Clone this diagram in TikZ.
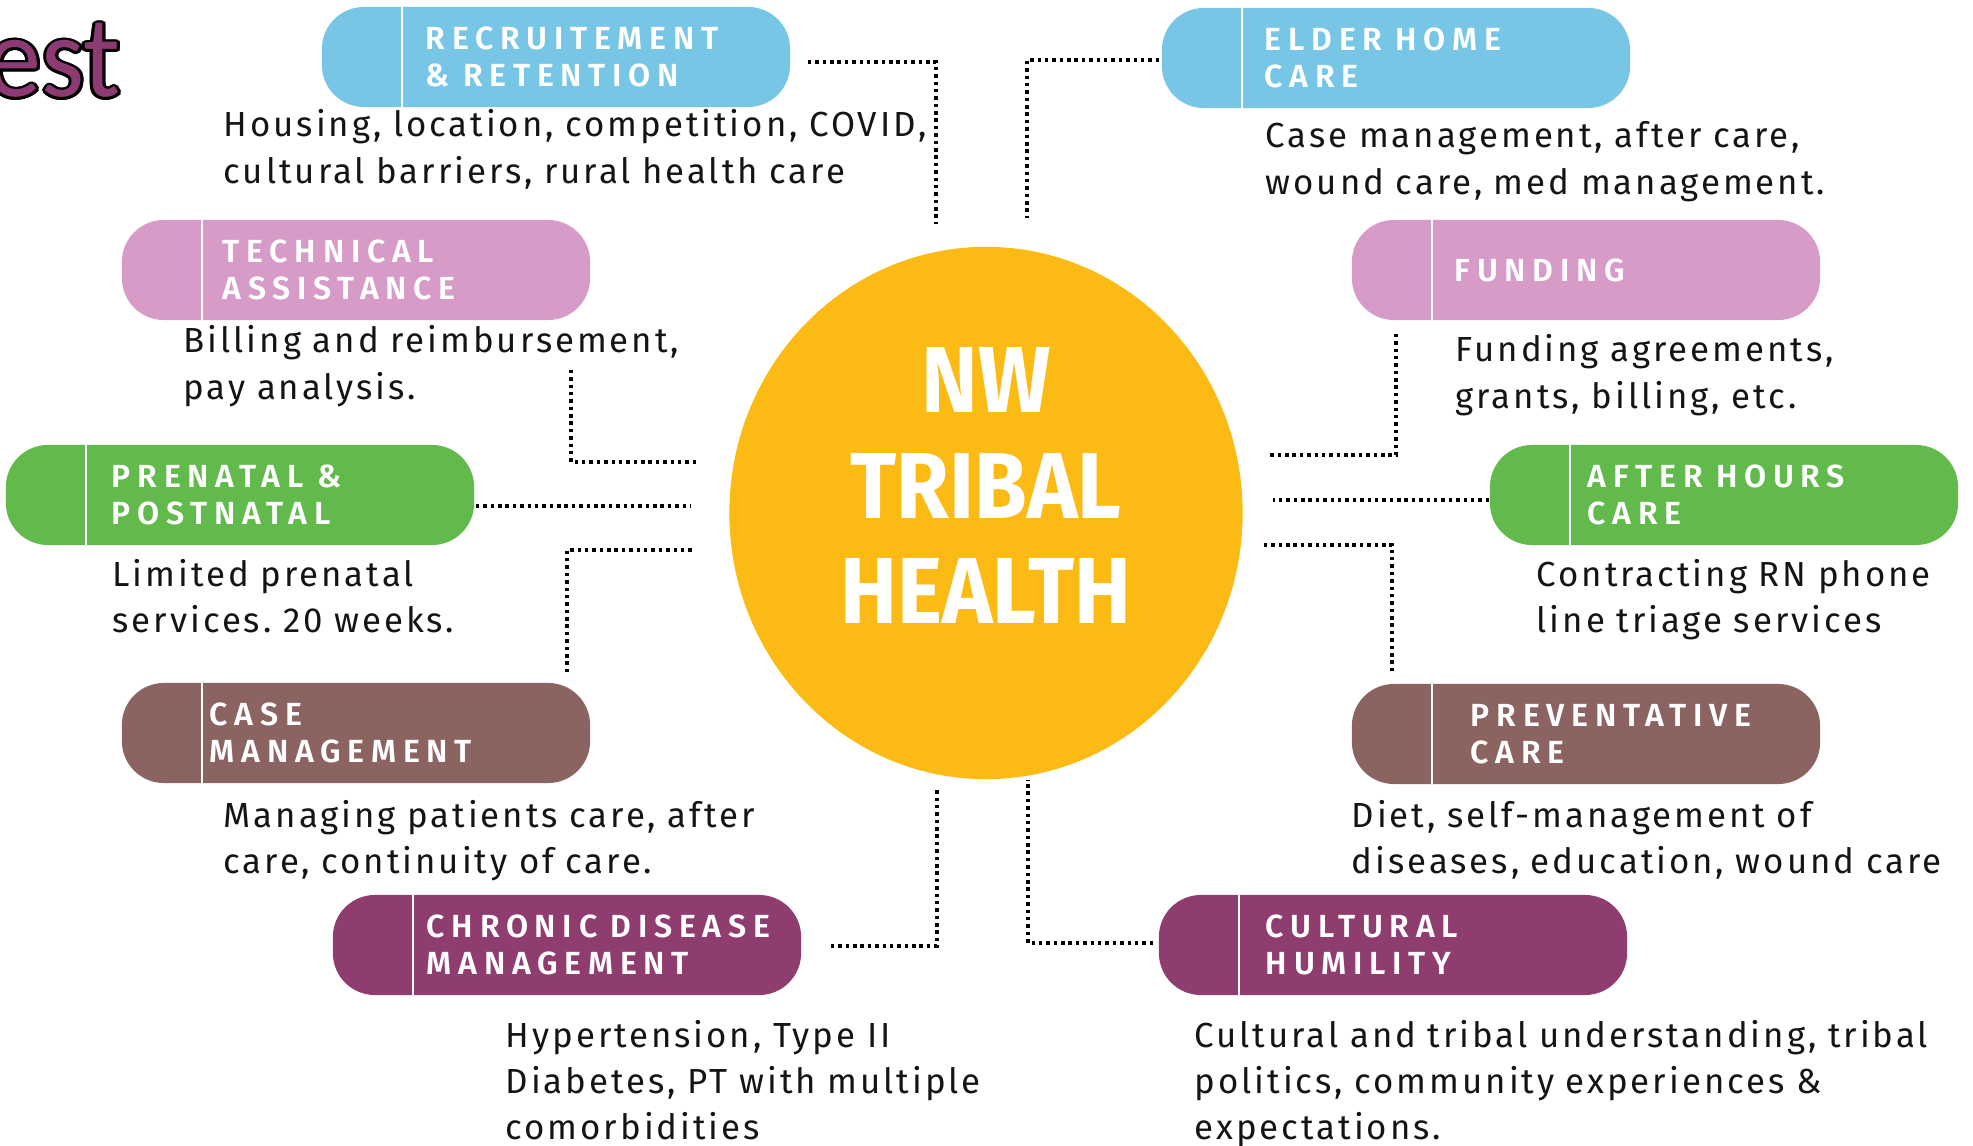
\documentclass[tikz,border=0pt]{standalone}
\usepackage{fontspec}
\usepackage{xcolor}
\usepackage[copies]{contour}
\usepackage{tikz}
\usetikzlibrary{calc}
\usetikzlibrary{shapes.geometric}

\newfontfamily\pillfont{Fira Sans}[LetterSpace=21, BoldFont={Fira Sans SemiBold}]
\newfontfamily\notefont{Fira Sans}[LetterSpace=8.5]
\newfontfamily\hubfont{Fira Sans}[FakeStretch=0.91]
\newfontfamily\slidefont{Carlito}[FakeStretch=0.95]
\newcommand\pillgap{\kern0.42em}
\contourlength{0.8pt}

\definecolor{pillBlue}{HTML}{77C6E6}
\definecolor{pillPink}{HTML}{D69BC6}
\definecolor{pillGreen}{HTML}{63BA4C}
\definecolor{pillBrown}{HTML}{8B6462}
\definecolor{pillPlum}{HTML}{8F3C6E}
\definecolor{hubGold}{HTML}{FBBB14}
\definecolor{slidePlum}{HTML}{8E3A72}

\tikzset{
  pill/.style={fill=#1, text=white, rounded corners=0.42cm, minimum height=1cm,
    text width=4.68cm, inner xsep=0pt, align=left, lead=1.03cm,
    font=\pillfont\bfseries\fontsize{9.1pt}{10.5pt}\selectfont,
    path picture={\draw[white, line width=0.8pt]
      ([xshift=0.8cm]path picture bounding box.north west) --
      ([xshift=0.8cm]path picture bounding box.south west);}},
  lead/.style={execute at begin node={\leftskip=#1\relax}},
  note/.style={anchor=base west, text width=8cm, align=left, inner sep=0pt,
    text=black!92, font=\notefont\frenchspacing\fontsize{9.9pt}{13.1pt}\selectfont},
  hub/.style={ellipse, fill=hubGold, text=white, minimum width=5.13cm,
    minimum height=5.32cm, inner sep=0pt, align=center, text depth=0.55cm,
    font=\hubfont\bfseries\fontsize{26.7pt}{29.9pt}\selectfont},
  link/.style={line width=1pt, dash pattern=on 1pt off 1.1pt},
}

\begin{document}
\begin{tikzpicture}[x=0.01cm, y=-0.01cm]
  \useasboundingbox (0,0) rectangle (1973,1146);
  \clip (0,0) rectangle (1973,1146);

  \node[anchor=base west, inner sep=0pt, text=slidePlum,
    font=\slidefont\fontsize{33pt}{36pt}\selectfont] (title) at (-14,97) {\contour{black}{est}};

  \node[hub] (hub) at (986,513) {NW\\TRIBAL\\HEALTH};

  \node[pill=pillBlue, lead=1.04cm] (recruit) at (556,57) {RECRUITEMENT\\\&\pillgap RETENTION};
  \node[pill=pillPink, lead=1.01cm] (ta) at (356,270) {TECHNICAL\\ASSISTANCE};
  \node[pill=pillGreen, lead=1.06cm] (pp) at (240,495) {PRENATAL\pillgap\&\\POSTNATAL};
  \node[pill=pillBrown, lead=0.88cm] (cm) at (356,733) {CASE\\MANAGEMENT};
  \node[pill=pillPlum, lead=0.94cm] (cd) at (567,945) {CHRONIC\pillgap DISEASE\\MANAGEMENT};
  \node[pill=pillPlum, lead=1.07cm] (ch) at (1393,945) {CULTURAL\\HUMILITY};
  \node[pill=pillBlue] (eh) at (1396,58) {ELDER\pillgap HOME\\CARE};
  \node[pill=pillPink] (fu) at (1586,270) {FUNDING};
  \node[pill=pillGreen, lead=0.98cm] (ah) at (1724,495) {AFTER\pillgap HOURS\\CARE};
  \node[pill=pillBrown, lead=1.19cm] (pc) at (1586,734) {PREVENTATIVE\\CARE};

  \node[note] (recruitTxt) at (223,137) {Housing, location, competition, COVID,\\cultural barriers, rural health care};
  \node[note] (taTxt) at (183,353) {Billing and reimbursement,\\pay analysis.};
  \node[note] (ppTxt) at (112,586) {Limited prenatal\\services. 20 weeks.};
  \node[note] (cmTxt) at (223,827) {Managing patients care, after\\care, continuity of care.};
  \node[note] (cdTxt) at (505,1047) {Hypertension, Type II\\Diabetes, PT with multiple\\comorbidities};
  \node[note] (chTxt) at (1194,1047) {Cultural and tribal understanding, tribal\\politics, community experiences \&\\expectations.};
  \node[note] (ehTxt) at (1265,148) {Case management, after care,\\wound care, med management.};
  \node[note] (fuTxt) at (1455,362) {Funding agreements,\\grants, billing, etc.};
  \node[note] (ahTxt) at (1536,586) {Contracting RN phone\\line triage services};
  \node[note] (pcTxt) at (1351,827) {Diet, self-management of\\diseases, education, wound care};

  \draw[link] ([shift={(17,5)}]recruit.east) -| ($(hub.center)+(-50,-289)$);
  \draw[link] ([shift={(-20,49)}]ta.south east) |- ($(hub.center)+(-286,-51)$);
  \draw[link] ([shift={(1,11)}]pp.east) -- ($(hub.center)+(-295,-7)$);
  \draw[link] ([shift={(-24,-10)}]cm.north east) |- ($(hub.center)+(-291,37)$);
  \draw[link] ([shift={(29,1)}]cd.east) -| ($(hub.center)+(-49,277)$);
  \draw[link] ([shift={(-5,-2)}]ch.west) -| ($(hub.center)+(42,267)$);
  \draw[link] ([shift={(-2,2)}]eh.west) -| ($(hub.center)+(41,-295)$);
  \draw[link] ([shift={(45,13)}]fu.south west) |- ($(hub.center)+(282,-58)$);
  \draw[link] ([shift={(0,5)}]ah.west) -- ($(hub.center)+(287,-13)$);
  \draw[link] ([shift={(41,-12)}]pc.north west) |- ($(hub.center)+(278,32)$);
\end{tikzpicture}
\end{document}
